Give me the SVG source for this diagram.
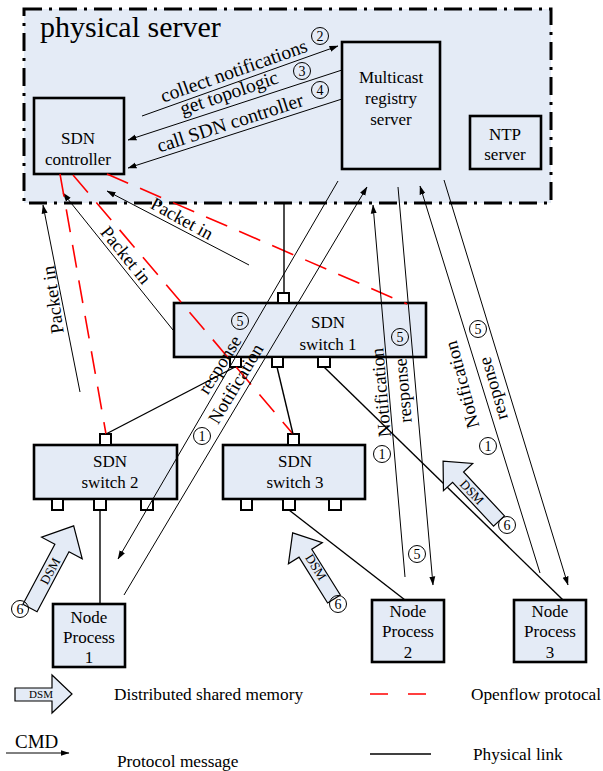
<svg xmlns="http://www.w3.org/2000/svg" width="603" height="771" viewBox="0 0 603 771">
<defs>
<marker id="ah" markerWidth="9" markerHeight="7" refX="8.5" refY="3.5" orient="auto" markerUnits="userSpaceOnUse">
<path d="M0,0.5 L9,3.5 L0,6.5 z" fill="#000"/>
</marker>
<style>
text{font-family:"Liberation Serif","Times New Roman",serif;fill:#000}
.box{fill:#e4ebf6;stroke:#000;stroke-width:2.6}
.port{fill:#fff;stroke:#000;stroke-width:2}
.t17{font-size:17px;text-anchor:middle}
.lbl{font-size:19.5px;text-anchor:middle}
.lb{font-size:18.5px;text-anchor:middle}
.msg{fill:none;stroke:#000;stroke-width:1;marker-end:url(#ah)}
.phy{fill:none;stroke:#000;stroke-width:1.4}
.of{fill:none;stroke:#f00;stroke-width:1.6;stroke-dasharray:23 13}
.num{fill:none;stroke:#000;stroke-width:1}
.nt{font-size:14px;text-anchor:middle}
.dsm{fill:#e4ebf6;stroke:#000;stroke-width:1.2}
.dt{font-size:13px;text-anchor:middle}
.leg{font-size:17.3px}
</style>
</defs>
<rect width="603" height="771" fill="#fff"/>

<g id="physical-server">
<rect x="24" y="9" width="527" height="194" fill="#e4ebf6" stroke="#000" stroke-width="3" stroke-dasharray="18 7 3 7"/>
<text x="40" y="37" style="font-size:30px">physical server</text>
</g>

<g id="sdn-controller">
<rect class="box" x="34" y="98" width="90" height="76"/>
<text class="t17" x="78" y="144">SDN</text>
<text class="t17" x="78" y="165">controller</text>
</g>

<g id="multicast-registry">
<rect class="box" x="342" y="42" width="98" height="127"/>
<text class="t17" x="391" y="83">Multicast</text>
<text class="t17" x="391" y="104">registry</text>
<text class="t17" x="391" y="125">server</text>
</g>

<g id="ntp-server">
<rect class="box" x="470" y="116" width="71" height="53"/>
<text class="t17" x="505" y="140">NTP</text>
<text class="t17" x="505" y="160">server</text>
</g>

<g id="sdn-switch-1">
<rect class="box" x="174" y="303" width="252" height="54"/>
<rect class="port" x="278" y="293" width="11" height="10"/>
<rect class="port" x="230" y="357" width="11" height="10"/>
<rect class="port" x="272" y="357" width="11" height="10"/>
<rect class="port" x="318" y="357" width="12" height="10"/>
<text class="t17" x="328" y="327.5">SDN</text>
<text class="t17" x="328" y="350">switch 1</text>
</g>

<g id="sdn-switch-2">
<rect class="box" x="34" y="445" width="143" height="54"/>
<rect class="port" x="100" y="434" width="11" height="11"/>
<rect class="port" x="52" y="499" width="11" height="11"/>
<rect class="port" x="94" y="499" width="12" height="11"/>
<rect class="port" x="141" y="499" width="12" height="11"/>
<text class="t17" x="110" y="467">SDN</text>
<text class="t17" x="110" y="488">switch 2</text>
</g>

<g id="sdn-switch-3">
<rect class="box" x="223" y="445" width="142" height="54"/>
<rect class="port" x="288" y="434" width="11" height="11"/>
<rect class="port" x="241" y="499" width="11" height="11"/>
<rect class="port" x="283" y="499" width="12" height="11"/>
<rect class="port" x="329" y="499" width="12" height="11"/>
<text class="t17" x="295" y="467">SDN</text>
<text class="t17" x="295" y="488">switch 3</text>
</g>

<g id="node-process-1">
<rect class="box" x="53" y="604" width="72" height="63"/>
<text class="t17" x="89" y="623">Node</text>
<text class="t17" x="89" y="643">Process</text>
<text class="t17" x="89" y="663">1</text>
</g>

<g id="node-process-2">
<rect class="box" x="372" y="600" width="72" height="62"/>
<text class="t17" x="408" y="617">Node</text>
<text class="t17" x="408" y="637">Process</text>
<text class="t17" x="408" y="658">2</text>
</g>

<g id="node-process-3">
<rect class="box" x="514" y="600" width="72" height="62"/>
<text class="t17" x="550" y="617">Node</text>
<text class="t17" x="550" y="637">Process</text>
<text class="t17" x="550" y="658">3</text>
</g>

<g id="connectors">
<path class="msg" d="M142,116 L338,46"/>
<path class="msg" d="M342,70 L128,140"/>
<path class="msg" d="M342,99 L128,168"/>
<path class="msg" d="M80,392 L43,205"/>
<path class="msg" d="M173,330 L63,193"/>
<path class="msg" d="M249,265 L107,191"/>
<path class="of" d="M60,174 L106,434"/>
<path class="of" d="M73,175 L293,434"/>
<path class="of" d="M107,174 L407,304"/>
<path class="phy" d="M284,203 L284,293"/>
<path class="phy" d="M235,367 L106,434"/>
<path class="phy" d="M277,367 L293,434"/>
<path class="phy" d="M324,367 L563,600"/>
<path class="phy" d="M100,510 L100,604"/>
<path class="phy" d="M289,510 L405,600"/>
<path class="msg" d="M124,595 L367,187"/>
<path class="msg" d="M338,181 L118,559"/>
<path class="msg" d="M405,577 L373,205"/>
<path class="msg" d="M398,187 L433,585"/>
<path class="msg" d="M540,573 L420,186"/>
<path class="msg" d="M444,180 L568,585"/>
<text class="lbl" transform="translate(236,77) rotate(-19.5)">collect notifications</text>
<text class="lbl" transform="translate(231,99) rotate(-18.5)">get topologic</text>
<text class="lbl" transform="translate(232,129) rotate(-18)">call SDN controller</text>
<text class="lb" transform="translate(59,299) rotate(-98)">Packet in</text>
<text class="lb" transform="translate(121,259) rotate(51)">Packet in</text>
<text class="lb" transform="translate(179,224) rotate(29)">Packet in</text>
<text class="lb" transform="translate(225,368) rotate(-58)">response</text>
<text class="lb" transform="translate(241,387) rotate(-59)">Notification</text>
<text class="lb" transform="translate(387,392) rotate(-95)">Notification</text>
<text class="lb" transform="translate(409,390) rotate(-95)">response</text>
<text class="lb" transform="translate(468,383) rotate(-105)">Notification</text>
<text class="lb" transform="translate(499,387) rotate(-106)">response</text>
</g>

<g id="dsm-arrows">
<path class="dsm" transform="translate(30,608) rotate(-62)" d="M0,-8 L68,-8 L68,-23 L93,0 L68,23 L68,8 L0,8 Z"/>
<text class="dt" transform="translate(50,571) rotate(-62)" dy="4.5">DSM</text>
<path class="dsm" transform="translate(334,599) rotate(-122)" d="M0,-7.5 L54,-7.5 L54,-20 L78,0 L54,20 L54,7.5 L0,7.5 Z"/>
<text class="dt" transform="translate(316,567) rotate(58)" dy="4.5">DSM</text>
<path class="dsm" transform="translate(499,521) rotate(-133)" d="M0,-7.5 L60,-7.5 L60,-20 L82,0 L60,20 L60,7.5 L0,7.5 Z"/>
<text class="dt" transform="translate(472,492) rotate(47)" dy="4.5">DSM</text>
</g>

<g id="step-numbers">
<circle class="num" cx="320" cy="36" r="8.5"/><text class="nt" x="320" y="41">2</text>
<circle class="num" cx="302" cy="71" r="8.5"/><text class="nt" x="302" y="76">3</text>
<circle class="num" cx="320" cy="90" r="8.5"/><text class="nt" x="320" y="95">4</text>
<circle class="num" cx="240" cy="321" r="8.5"/><text class="nt" x="240" y="326">5</text>
<circle class="num" cx="400" cy="337" r="8.5"/><text class="nt" x="400" y="342">5</text>
<circle class="num" cx="478" cy="329" r="8.5"/><text class="nt" x="478" y="334">5</text>
<circle class="num" cx="202" cy="436" r="8.5"/><text class="nt" x="202" y="441">1</text>
<circle class="num" cx="382" cy="454" r="8.5"/><text class="nt" x="382" y="459">1</text>
<circle class="num" cx="488" cy="446" r="8.5"/><text class="nt" x="488" y="451">1</text>
<circle class="num" cx="417" cy="554" r="8.5"/><text class="nt" x="417" y="559">5</text>
<circle class="num" cx="20" cy="609" r="8.5"/><text class="nt" x="20" y="614">6</text>
<circle class="num" cx="338" cy="604" r="8.5"/><text class="nt" x="338" y="609">6</text>
<circle class="num" cx="507" cy="525" r="8.5"/><text class="nt" x="507" y="530">6</text>
</g>

<g id="legend">
<path class="dsm" d="M15,688 L52,688 L52,675 L72,694 L52,713 L52,701 L15,701 Z"/>
<text x="41" y="698" style="font-size:11px;text-anchor:middle">DSM</text>
<text class="leg" x="114" y="700">Distributed shared memory</text>
<path d="M370,694 L428,694" fill="none" stroke="#f00" stroke-width="1.6" stroke-dasharray="18 20"/>
<text class="leg" x="471" y="700">Openflow protocal</text>
<text x="15" y="748" style="font-size:19px">CMD</text>
<path class="msg" d="M6,753 L69,753"/>
<text class="leg" x="117" y="767">Protocol message</text>
<path d="M370,754 L431,754" fill="none" stroke="#000" stroke-width="1.4"/>
<text class="leg" x="473" y="760">Physical link</text>
</g>
</svg>
